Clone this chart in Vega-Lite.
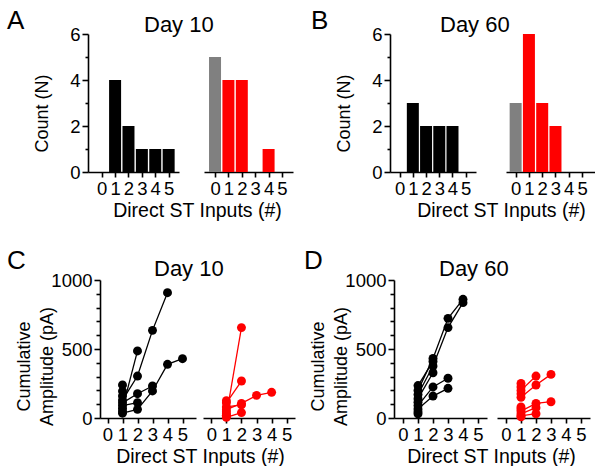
{
  "$schema": "https://vega.github.io/schema/vega-lite/v6.json",
  "padding": {"left": 7, "top": 8, "right": 0, "bottom": 0},
  "datasets": {
    "hist": [
      {"day": 10, "side": "L", "inputs": 1, "count": 4, "kind": "ctrl"},
      {"day": 10, "side": "L", "inputs": 2, "count": 2, "kind": "ctrl"},
      {"day": 10, "side": "L", "inputs": 3, "count": 1, "kind": "ctrl"},
      {"day": 10, "side": "L", "inputs": 4, "count": 1, "kind": "ctrl"},
      {"day": 10, "side": "L", "inputs": 5, "count": 1, "kind": "ctrl"},
      {"day": 10, "side": "R", "inputs": 0, "count": 5, "kind": "zero"},
      {"day": 10, "side": "R", "inputs": 1, "count": 4, "kind": "trt"},
      {"day": 10, "side": "R", "inputs": 2, "count": 4, "kind": "trt"},
      {"day": 10, "side": "R", "inputs": 4, "count": 1, "kind": "trt"},
      {"day": 60, "side": "L", "inputs": 1, "count": 3, "kind": "ctrl"},
      {"day": 60, "side": "L", "inputs": 2, "count": 2, "kind": "ctrl"},
      {"day": 60, "side": "L", "inputs": 3, "count": 2, "kind": "ctrl"},
      {"day": 60, "side": "L", "inputs": 4, "count": 2, "kind": "ctrl"},
      {"day": 60, "side": "R", "inputs": 0, "count": 3, "kind": "zero"},
      {"day": 60, "side": "R", "inputs": 1, "count": 6, "kind": "trt"},
      {"day": 60, "side": "R", "inputs": 2, "count": 3, "kind": "trt"},
      {"day": 60, "side": "R", "inputs": 3, "count": 2, "kind": "trt"}
    ],
    "amp": [
      {"day": 10, "side": "L", "cell": "a", "inputs": 1, "amp": 70},
      {"day": 10, "side": "L", "cell": "a", "inputs": 2, "amp": 486},
      {"day": 10, "side": "L", "cell": "b", "inputs": 1, "amp": 130},
      {"day": 10, "side": "L", "cell": "b", "inputs": 2, "amp": 304},
      {"day": 10, "side": "L", "cell": "b", "inputs": 3, "amp": 635},
      {"day": 10, "side": "L", "cell": "b", "inputs": 4, "amp": 908},
      {"day": 10, "side": "L", "cell": "c", "inputs": 1, "amp": 110},
      {"day": 10, "side": "L", "cell": "c", "inputs": 2, "amp": 176},
      {"day": 10, "side": "L", "cell": "c", "inputs": 3, "amp": 232},
      {"day": 10, "side": "L", "cell": "d", "inputs": 1, "amp": 35},
      {"day": 10, "side": "L", "cell": "d", "inputs": 2, "amp": 63},
      {"day": 10, "side": "L", "cell": "d", "inputs": 3, "amp": 196},
      {"day": 10, "side": "L", "cell": "d", "inputs": 4, "amp": 389},
      {"day": 10, "side": "L", "cell": "d", "inputs": 5, "amp": 430},
      {"day": 10, "side": "L", "cell": "e", "inputs": 1, "amp": 90},
      {"day": 10, "side": "L", "cell": "e", "inputs": 2, "amp": 111},
      {"day": 10, "side": "L", "cell": "f", "inputs": 1, "amp": 240},
      {"day": 10, "side": "L", "cell": "g", "inputs": 1, "amp": 195},
      {"day": 10, "side": "L", "cell": "h", "inputs": 1, "amp": 160},
      {"day": 10, "side": "L", "cell": "i", "inputs": 1, "amp": 50},
      {"day": 10, "side": "R", "cell": "a", "inputs": 1, "amp": 20},
      {"day": 10, "side": "R", "cell": "a", "inputs": 2, "amp": 655},
      {"day": 10, "side": "R", "cell": "b", "inputs": 1, "amp": 110},
      {"day": 10, "side": "R", "cell": "b", "inputs": 2, "amp": 268},
      {"day": 10, "side": "R", "cell": "c", "inputs": 1, "amp": 60},
      {"day": 10, "side": "R", "cell": "c", "inputs": 2, "amp": 106},
      {"day": 10, "side": "R", "cell": "c", "inputs": 3, "amp": 164},
      {"day": 10, "side": "R", "cell": "c", "inputs": 4, "amp": 186},
      {"day": 10, "side": "R", "cell": "d", "inputs": 1, "amp": 80},
      {"day": 10, "side": "R", "cell": "d", "inputs": 2, "amp": 95},
      {"day": 10, "side": "R", "cell": "e", "inputs": 1, "amp": 5},
      {"day": 10, "side": "R", "cell": "e", "inputs": 2, "amp": 39},
      {"day": 10, "side": "R", "cell": "f", "inputs": 1, "amp": 125},
      {"day": 10, "side": "R", "cell": "g", "inputs": 1, "amp": 45},
      {"day": 10, "side": "R", "cell": "h", "inputs": 1, "amp": 30},
      {"day": 10, "side": "R", "cell": "i", "inputs": 1, "amp": 15},
      {"day": 60, "side": "L", "cell": "a", "inputs": 1, "amp": 200},
      {"day": 60, "side": "L", "cell": "a", "inputs": 2, "amp": 432},
      {"day": 60, "side": "L", "cell": "a", "inputs": 3, "amp": 722},
      {"day": 60, "side": "L", "cell": "a", "inputs": 4, "amp": 860},
      {"day": 60, "side": "L", "cell": "b", "inputs": 1, "amp": 170},
      {"day": 60, "side": "L", "cell": "b", "inputs": 2, "amp": 377},
      {"day": 60, "side": "L", "cell": "b", "inputs": 3, "amp": 655},
      {"day": 60, "side": "L", "cell": "b", "inputs": 4, "amp": 836},
      {"day": 60, "side": "L", "cell": "c", "inputs": 1, "amp": 140},
      {"day": 60, "side": "L", "cell": "c", "inputs": 2, "amp": 328},
      {"day": 60, "side": "L", "cell": "d", "inputs": 1, "amp": 235},
      {"day": 60, "side": "L", "cell": "d", "inputs": 2, "amp": 410},
      {"day": 60, "side": "L", "cell": "e", "inputs": 1, "amp": 90},
      {"day": 60, "side": "L", "cell": "e", "inputs": 2, "amp": 225},
      {"day": 60, "side": "L", "cell": "e", "inputs": 3, "amp": 288},
      {"day": 60, "side": "L", "cell": "f", "inputs": 1, "amp": 65},
      {"day": 60, "side": "L", "cell": "f", "inputs": 2, "amp": 159},
      {"day": 60, "side": "L", "cell": "f", "inputs": 3, "amp": 215},
      {"day": 60, "side": "L", "cell": "g", "inputs": 1, "amp": 115},
      {"day": 60, "side": "L", "cell": "h", "inputs": 1, "amp": 45},
      {"day": 60, "side": "L", "cell": "i", "inputs": 1, "amp": 30},
      {"day": 60, "side": "R", "cell": "a", "inputs": 1, "amp": 150},
      {"day": 60, "side": "R", "cell": "a", "inputs": 2, "amp": 239},
      {"day": 60, "side": "R", "cell": "a", "inputs": 3, "amp": 316},
      {"day": 60, "side": "R", "cell": "b", "inputs": 1, "amp": 50},
      {"day": 60, "side": "R", "cell": "b", "inputs": 2, "amp": 106},
      {"day": 60, "side": "R", "cell": "b", "inputs": 3, "amp": 118},
      {"day": 60, "side": "R", "cell": "c", "inputs": 1, "amp": 200},
      {"day": 60, "side": "R", "cell": "c", "inputs": 2, "amp": 304},
      {"day": 60, "side": "R", "cell": "d", "inputs": 1, "amp": 30},
      {"day": 60, "side": "R", "cell": "d", "inputs": 2, "amp": 75},
      {"day": 60, "side": "R", "cell": "e", "inputs": 1, "amp": 15},
      {"day": 60, "side": "R", "cell": "e", "inputs": 2, "amp": 31},
      {"day": 60, "side": "R", "cell": "f", "inputs": 1, "amp": 250},
      {"day": 60, "side": "R", "cell": "g", "inputs": 1, "amp": 225},
      {"day": 60, "side": "R", "cell": "h", "inputs": 1, "amp": 175},
      {"day": 60, "side": "R", "cell": "i", "inputs": 1, "amp": 80},
      {"day": 60, "side": "R", "cell": "j", "inputs": 1, "amp": 65},
      {"day": 60, "side": "R", "cell": "k", "inputs": 1, "amp": 8}
    ]
  },
  "config": {
    "font": "Liberation Sans",
    "view": {"stroke": null},
    "axis": {
      "grid": false,
      "domainColor": "black",
      "domainWidth": 1.6,
      "tickColor": "black",
      "tickWidth": 1.6,
      "labelColor": "black",
      "titleColor": "black",
      "labelFont": "Liberation Sans",
      "titleFont": "Liberation Sans",
      "labelFontSize": 18.5,
      "titleFontSize": 19.5,
      "titleFontWeight": "normal",
      "labelOverlap": false,
      "labelFlush": false
    },
    "title": {"font": "Liberation Sans", "fontWeight": "normal", "color": "black", "anchor": "start", "frame": "group", "baseline": "alphabetic"}
  },
  "spacing": 28,
  "vconcat": [
    {
      "spacing": 18,
      "hconcat": [
        {
          "bounds": "flush",
          "spacing": 25,
          "hconcat": [
            {
              "width": 91, "height": 138,
              "title": {"text": "A", "fontSize": 26, "dx": -81, "offset": -9},
              "data": {"name": "hist"},
              "transform": [{"filter": "datum.day === 10 && datum.side === 'L'"}],
              "mark": {"type": "bar", "width": 12},
              "encoding": {
                "x": {"field": "inputs", "type": "quantitative", "scale": {"domain": [-0.65, 5.4], "nice": false, "zero": false},
                      "axis": {"values": [0, 1, 2, 3, 4, 5], "tickSize": 5, "labelPadding": 2, "title": null}},
                "y": {"field": "count", "type": "quantitative", "scale": {"domain": [0, 6], "nice": false},
                      "axis": {"title": "Count (N)", "values": [0, 1, 2, 3, 4, 5, 6], "labelExpr": "datum.value % 2 === 0 ? datum.label : ''",
                               "tickSize": {"condition": {"test": "datum.value % 2 === 0", "value": 6}, "value": 3},
                               "labelPadding": 2, "titlePadding": 18, "titleY": 79, "titleFontSize": 18}},
                "color": {"field": "kind", "type": "nominal", "scale": {"domain": ["ctrl", "zero", "trt"], "range": ["#000000", "#808080", "#ff0000"]}, "legend": null}
              }
            },
            {
              "width": 89, "height": 138,
              "title": {"text": "Day 10", "fontSize": 22, "dx": -60, "offset": -3},
              "data": {"name": "hist"},
              "transform": [{"filter": "datum.day === 10 && datum.side === 'R'"}],
              "mark": {"type": "bar", "width": 12},
              "encoding": {
                "x": {"field": "inputs", "type": "quantitative", "scale": {"domain": [-0.45, 5.45], "nice": false, "zero": false},
                      "axis": {"values": [0, 1, 2, 3, 4, 5], "tickSize": 5, "labelPadding": 2, "title": "Direct ST Inputs (#)", "titleX": -7, "titlePadding": 4}},
                "y": {"field": "count", "type": "quantitative", "scale": {"domain": [0, 6], "nice": false}, "axis": null},
                "color": {"field": "kind", "type": "nominal", "scale": {"domain": ["ctrl", "zero", "trt"], "range": ["#000000", "#808080", "#ff0000"]}, "legend": null}
              }
            }
          ]
        },
        {
          "bounds": "flush",
          "spacing": 30,
          "hconcat": [
            {
              "width": 86, "height": 138,
              "title": {"text": "B", "fontSize": 26, "dx": -79, "offset": -9},
              "data": {"name": "hist"},
              "transform": [{"filter": "datum.day === 60 && datum.side === 'L'"}],
              "mark": {"type": "bar", "width": 12},
              "encoding": {
                "x": {"field": "inputs", "type": "quantitative", "scale": {"domain": [-0.35, 5.4], "nice": false, "zero": false},
                      "axis": {"values": [0, 1, 2, 3, 4, 5], "tickSize": 5, "labelPadding": 2, "title": null}},
                "y": {"field": "count", "type": "quantitative", "scale": {"domain": [0, 6], "nice": false},
                      "axis": {"title": "Count (N)", "values": [0, 1, 2, 3, 4, 5, 6], "labelExpr": "datum.value % 2 === 0 ? datum.label : ''",
                               "tickSize": {"condition": {"test": "datum.value % 2 === 0", "value": 6}, "value": 3},
                               "labelPadding": 2, "titlePadding": 18, "titleY": 79, "titleFontSize": 18}},
                "color": {"field": "kind", "type": "nominal", "scale": {"domain": ["ctrl", "zero", "trt"], "range": ["#000000", "#808080", "#ff0000"]}, "legend": null}
              }
            },
            {
              "width": 89, "height": 138,
              "title": {"text": "Day 60", "fontSize": 22, "dx": -66, "offset": -3},
              "data": {"name": "hist"},
              "transform": [{"filter": "datum.day === 60 && datum.side === 'R'"}],
              "mark": {"type": "bar", "width": 12},
              "encoding": {
                "x": {"field": "inputs", "type": "quantitative", "scale": {"domain": [-0.35, 5.6], "nice": false, "zero": false},
                      "axis": {"values": [0, 1, 2, 3, 4, 5], "tickSize": 5, "labelPadding": 2, "title": "Direct ST Inputs (#)", "titleX": -5, "titlePadding": 4}},
                "y": {"field": "count", "type": "quantitative", "scale": {"domain": [0, 6], "nice": false}, "axis": null},
                "color": {"field": "kind", "type": "nominal", "scale": {"domain": ["ctrl", "zero", "trt"], "range": ["#000000", "#808080", "#ff0000"]}, "legend": null}
              }
            }
          ]
        }
      ]
    },
    {
      "spacing": 9,
      "hconcat": [
        {
          "bounds": "flush",
          "spacing": 7,
          "hconcat": [
            {"width": 5, "height": 1, "data": {"values": [{"a": 1}]}, "mark": {"type": "point", "opacity": 0}},
            {
              "width": 96, "height": 138,
              "title": {"text": "C", "fontSize": 26, "dx": -93, "offset": -3},
              "data": {"name": "amp"},
              "transform": [{"filter": "datum.day === 10 && datum.side === 'L'"}],
              "encoding": {
                "x": {"field": "inputs", "type": "quantitative", "scale": {"domain": [-0.5, 5.9], "nice": false, "zero": false},
                      "axis": {"values": [0, 1, 2, 3, 4, 5], "tickSize": 5, "labelPadding": 2, "title": null}},
                "y": {"field": "amp", "type": "quantitative", "scale": {"domain": [0, 1000], "nice": false},
                      "axis": {"title": ["Cumulative", "Amplitude (pA)"], "values": [0, 100, 200, 300, 400, 500, 600, 700, 800, 900, 1000],
                               "format": "d", "labelExpr": "datum.value % 500 === 0 ? datum.label : ''",
                               "tickSize": {"condition": {"test": "datum.value % 500 === 0", "value": 6}, "value": 4},
                               "labelPadding": 2, "titlePadding": -6, "titleY": 86, "titleFontSize": 18, "titleLineHeight": 23}},
                "detail": {"field": "cell"},
                "order": {"field": "inputs"}
              },
              "layer": [
                {"mark": {"type": "line", "color": "black", "strokeWidth": 1.3}},
                {"mark": {"type": "circle", "color": "black", "size": 80, "opacity": 1}}
              ]
            },
            {
              "width": 92, "height": 138,
              "title": {"text": "Day 10", "fontSize": 22, "dx": -49, "offset": -1},
              "data": {"name": "amp"},
              "transform": [{"filter": "datum.day === 10 && datum.side === 'R'"}],
              "encoding": {
                "x": {"field": "inputs", "type": "quantitative", "scale": {"domain": [-0.55, 5.55], "nice": false, "zero": false},
                      "axis": {"values": [0, 1, 2, 3, 4, 5], "tickSize": 5, "labelPadding": 2, "title": "Direct ST Inputs (#)", "titleX": -3, "titlePadding": 4}},
                "y": {"field": "amp", "type": "quantitative", "scale": {"domain": [0, 1000], "nice": false}, "axis": null},
                "detail": {"field": "cell"},
                "order": {"field": "inputs"}
              },
              "layer": [
                {"mark": {"type": "line", "color": "#ff0000", "strokeWidth": 1.3}},
                {"mark": {"type": "circle", "color": "#ff0000", "size": 80, "opacity": 1}}
              ]
            }
          ]
        },
        {
          "bounds": "flush",
          "spacing": 10,
          "hconcat": [
            {
              "width": 93, "height": 138,
              "title": {"text": "D", "fontSize": 26, "dx": -90, "offset": -3},
              "data": {"name": "amp"},
              "transform": [{"filter": "datum.day === 60 && datum.side === 'L'"}],
              "encoding": {
                "x": {"field": "inputs", "type": "quantitative", "scale": {"domain": [-0.6, 5.6], "nice": false, "zero": false},
                      "axis": {"values": [0, 1, 2, 3, 4, 5], "tickSize": 5, "labelPadding": 2, "title": null}},
                "y": {"field": "amp", "type": "quantitative", "scale": {"domain": [0, 1000], "nice": false},
                      "axis": {"title": ["Cumulative", "Amplitude (pA)"], "values": [0, 100, 200, 300, 400, 500, 600, 700, 800, 900, 1000],
                               "format": "d", "labelExpr": "datum.value % 500 === 0 ? datum.label : ''",
                               "tickSize": {"condition": {"test": "datum.value % 500 === 0", "value": 6}, "value": 4},
                               "labelPadding": 2, "titlePadding": -6, "titleY": 86, "titleFontSize": 18, "titleLineHeight": 23}},
                "detail": {"field": "cell"},
                "order": {"field": "inputs"}
              },
              "layer": [
                {"mark": {"type": "line", "color": "black", "strokeWidth": 1.3}},
                {"mark": {"type": "circle", "color": "black", "size": 80, "opacity": 1}}
              ]
            },
            {
              "width": 93, "height": 138,
              "title": {"text": "Day 60", "fontSize": 22, "dx": -58, "offset": -1},
              "data": {"name": "amp"},
              "transform": [{"filter": "datum.day === 60 && datum.side === 'R'"}],
              "encoding": {
                "x": {"field": "inputs", "type": "quantitative", "scale": {"domain": [-0.6, 5.6], "nice": false, "zero": false},
                      "axis": {"values": [0, 1, 2, 3, 4, 5], "tickSize": 5, "labelPadding": 2, "title": "Direct ST Inputs (#)", "titleX": -6, "titlePadding": 4}},
                "y": {"field": "amp", "type": "quantitative", "scale": {"domain": [0, 1000], "nice": false}, "axis": null},
                "detail": {"field": "cell"},
                "order": {"field": "inputs"}
              },
              "layer": [
                {"mark": {"type": "line", "color": "#ff0000", "strokeWidth": 1.3}},
                {"mark": {"type": "circle", "color": "#ff0000", "size": 80, "opacity": 1}}
              ]
            }
          ]
        }
      ]
    }
  ]
}
